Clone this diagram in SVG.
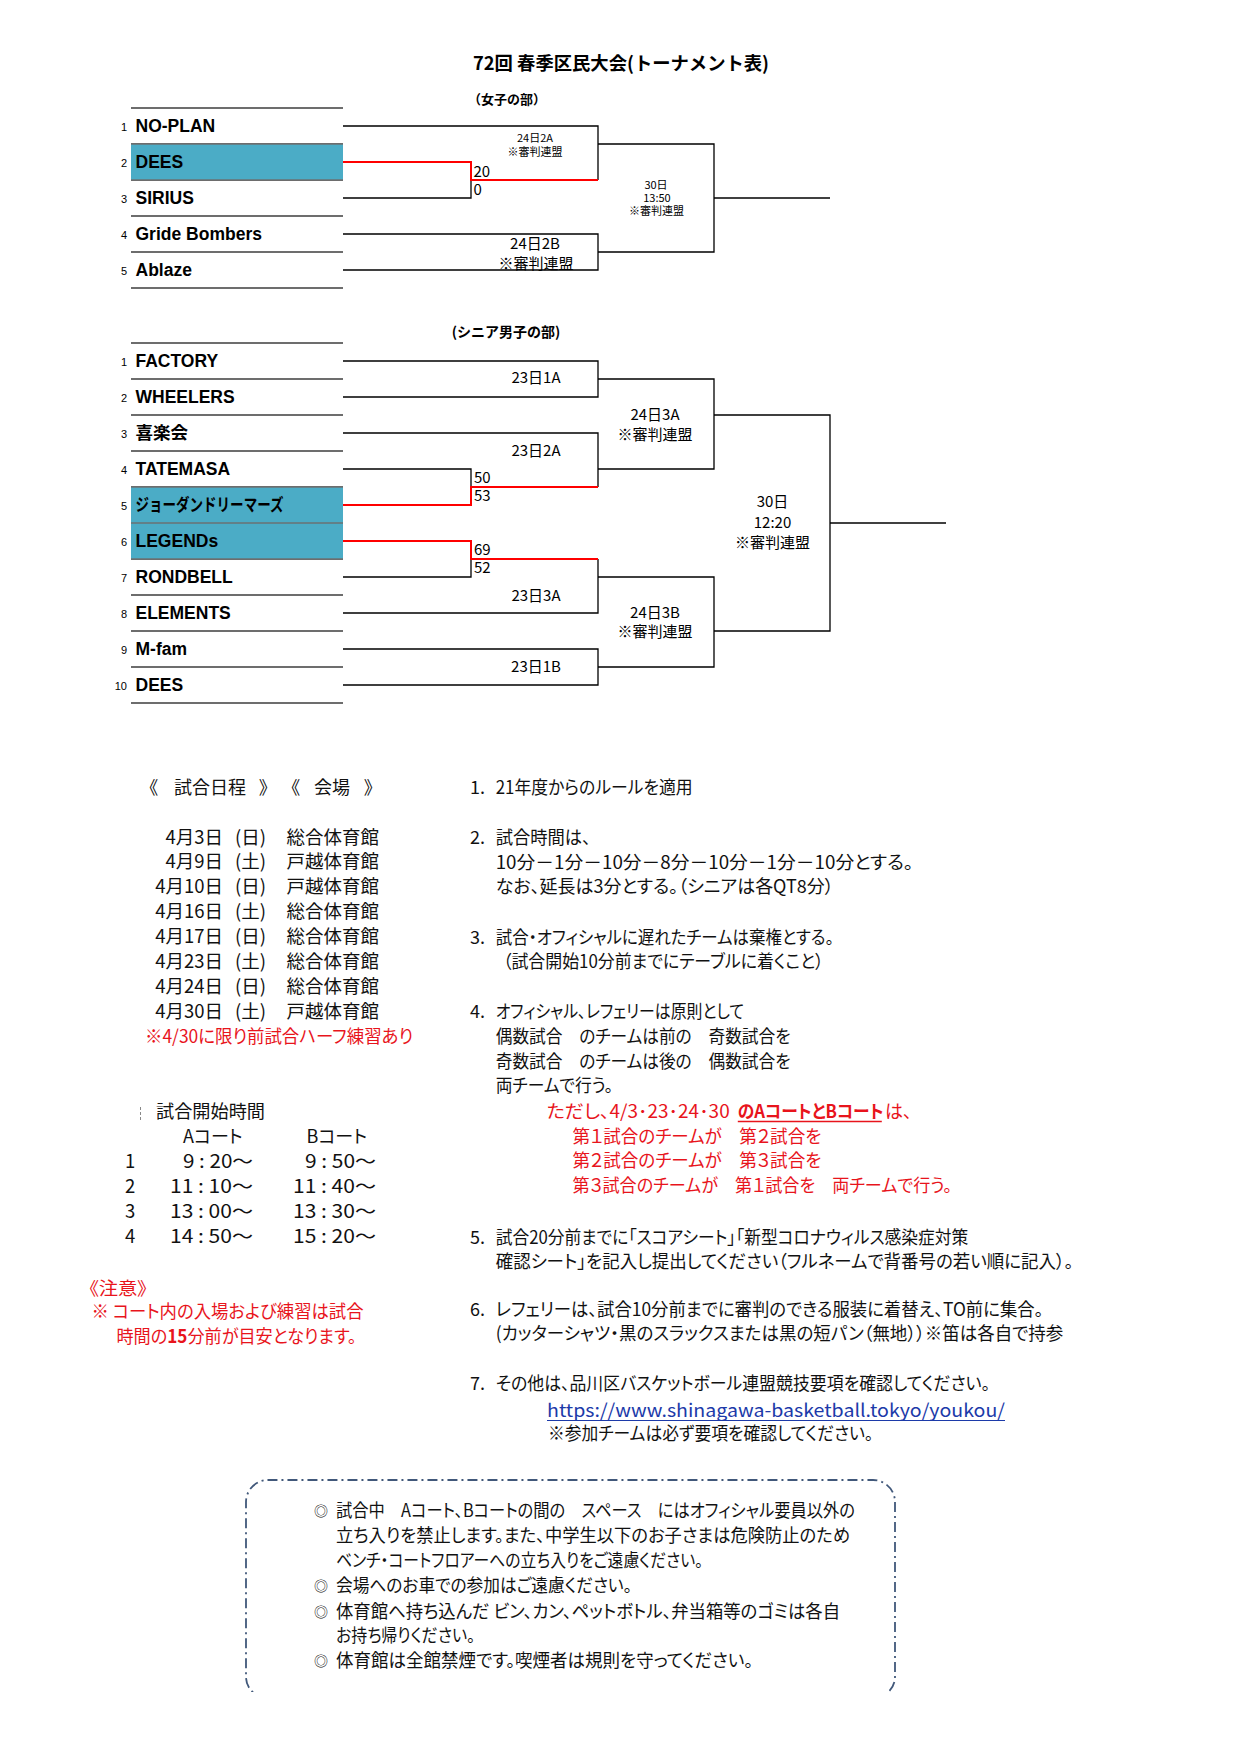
<svg xmlns="http://www.w3.org/2000/svg" width="1240" height="1754" viewBox="0 0 1240 1754">
<style>
.t{font-family:"Noto Sans CJK JP",sans-serif;font-size:18px;font-feature-settings:"palt" 1;fill:#111}
.d{font-family:"Noto Sans CJK JP",sans-serif;font-size:18.5px;fill:#111}
.red{fill:#e8141c}
.team{font-family:"Liberation Sans","Noto Sans CJK JP",sans-serif;font-weight:bold;font-size:17.5px;fill:#000}
.num{font-family:"Liberation Sans",sans-serif;font-size:11px;fill:#000;text-anchor:end}
.row{stroke:#3c3c3c;stroke-width:1.5}
.br{fill:none;stroke:#000;stroke-width:1.3}
.win{fill:none;stroke:#f00;stroke-width:2}
.lbl{font-family:"Noto Sans CJK JP",sans-serif;font-size:15px;text-anchor:middle;fill:#000}
.sm{font-family:"Noto Sans CJK JP",sans-serif;font-size:11px;text-anchor:middle;fill:#000}
.sc{font-family:"Noto Sans CJK JP",sans-serif;font-size:15px;fill:#000}
.hd{font-family:"Noto Sans CJK JP",sans-serif;font-weight:bold;fill:#000}
.blue{fill:#4bacc6}
.bul{font-family:"Noto Sans CJK JP",sans-serif;font-size:14px;fill:#111}
</style>
<rect width="1240" height="1754" fill="#fff"/>

<!-- titles -->
<text class="hd" x="473" y="70" font-size="18.5" textLength="296" lengthAdjust="spacingAndGlyphs">72回 春季区民大会(トーナメント表)</text>
<text class="hd" x="507" y="103.5" font-size="13" text-anchor="middle">（女子の部）</text>
<text class="hd" x="506" y="337" font-size="14" text-anchor="middle">(シニア男子の部)</text>

<!-- row lines -->
<g id="row-lines">
<line class="row" x1="131" y1="108" x2="343" y2="108"/>
<line class="row" x1="131" y1="144" x2="343" y2="144"/>
<line class="row" x1="131" y1="180" x2="343" y2="180"/>
<line class="row" x1="131" y1="216" x2="343" y2="216"/>
<line class="row" x1="131" y1="252" x2="343" y2="252"/>
<line class="row" x1="131" y1="288" x2="343" y2="288"/>
<line class="row" x1="131" y1="343" x2="343" y2="343"/>
<line class="row" x1="131" y1="379" x2="343" y2="379"/>
<line class="row" x1="131" y1="415" x2="343" y2="415"/>
<line class="row" x1="131" y1="451" x2="343" y2="451"/>
<line class="row" x1="131" y1="487" x2="343" y2="487"/>
<line class="row" x1="131" y1="523" x2="343" y2="523"/>
<line class="row" x1="131" y1="559" x2="343" y2="559"/>
<line class="row" x1="131" y1="595" x2="343" y2="595"/>
<line class="row" x1="131" y1="631" x2="343" y2="631"/>
<line class="row" x1="131" y1="667" x2="343" y2="667"/>
<line class="row" x1="131" y1="703" x2="343" y2="703"/>
</g>

<!-- women's teams -->
<g id="w-team-1"><text class="num" x="127" y="131">1</text><text class="team" x="135.5" y="132">NO-PLAN</text></g>
<g id="w-team-2"><rect class="blue" x="131" y="144.7" width="212" height="34.6"/><text class="num" x="127" y="167">2</text><text class="team" x="135.5" y="168">DEES</text></g>
<g id="w-team-3"><text class="num" x="127" y="203">3</text><text class="team" x="135.5" y="204">SIRIUS</text></g>
<g id="w-team-4"><text class="num" x="127" y="239">4</text><text class="team" x="135.5" y="240">Gride Bombers</text></g>
<g id="w-team-5"><text class="num" x="127" y="275">5</text><text class="team" x="135.5" y="276">Ablaze</text></g>

<!-- men's teams -->
<g id="m-team-1"><text class="num" x="127" y="366">1</text><text class="team" x="135.5" y="367">FACTORY</text></g>
<g id="m-team-2"><text class="num" x="127" y="402">2</text><text class="team" x="135.5" y="403">WHEELERS</text></g>
<g id="m-team-3"><text class="num" x="127" y="438">3</text><text class="team" x="135.5" y="439">喜楽会</text></g>
<g id="m-team-4"><text class="num" x="127" y="474">4</text><text class="team" x="135.5" y="475">TATEMASA</text></g>
<g id="m-team-5"><rect class="blue" x="131" y="487.7" width="212" height="34.6"/><text class="num" x="127" y="510">5</text><text class="team" x="135.5" y="511" textLength="148" lengthAdjust="spacingAndGlyphs">ジョーダンドリーマーズ</text></g>
<g id="m-team-6"><rect class="blue" x="131" y="523.7" width="212" height="34.6"/><text class="num" x="127" y="546">6</text><text class="team" x="135.5" y="547">LEGENDs</text></g>
<g id="m-team-7"><text class="num" x="127" y="582">7</text><text class="team" x="135.5" y="583">RONDBELL</text></g>
<g id="m-team-8"><text class="num" x="127" y="618">8</text><text class="team" x="135.5" y="619">ELEMENTS</text></g>
<g id="m-team-9"><text class="num" x="127" y="654">9</text><text class="team" x="135.5" y="655">M-fam</text></g>
<g id="m-team-10"><text class="num" x="127" y="690">10</text><text class="team" x="135.5" y="691">DEES</text></g>

<!-- connectors -->
<g id="connectors">
<path class="br" d="M343,126H598V180"/>
<path class="br" d="M343,198H471V180"/>
<path class="br" d="M598,144H714V252H598"/>
<path class="br" d="M343,234H598V270H343"/>
<path class="br" d="M714,198H830"/>
<path class="win" d="M343,162H471V180H598"/>

<path class="br" d="M343,361H598V397H343"/>
<path class="br" d="M598,379H714V469H598"/>
<path class="br" d="M343,433H598V487"/>
<path class="br" d="M343,469H471V487"/>
<path class="br" d="M714,415H830V631H714"/>
<path class="br" d="M830,523H946"/>
<path class="br" d="M343,577H471V559"/>
<path class="br" d="M343,613H598V559"/>
<path class="br" d="M598,577H714V667H598"/>
<path class="br" d="M343,649H598V685H343"/>
<path class="win" d="M343,505H471V487H598"/>
<path class="win" d="M343,541H471V559H598"/>
</g>

<!-- match labels women -->
<g id="w-match-2A"><text class="sm" x="535" y="141.5">24日2A</text><text class="sm" x="535" y="155.5" font-size="11.5">※審判連盟</text></g>
<g id="w-score-1"><text class="sc" x="473.5" y="176.5" font-size="13">20</text><text class="sc" x="473.5" y="194.5" font-size="13">0</text></g>
<g id="w-final"><text class="sm" x="656" y="189" font-size="10.5">30日</text><text class="sm" x="657" y="201.5" font-size="10.5">13:50</text><text class="sm" x="656.5" y="215" font-size="11.5">※審判連盟</text></g>
<g id="w-match-2B"><text class="lbl" x="535" y="249">24日2B</text><text class="lbl" x="536" y="268.5" font-size="14.5">※審判連盟</text></g>

<!-- match labels men -->
<g id="m-match-1A"><text class="lbl" x="536" y="383">23日1A</text></g>
<g id="m-match-2A"><text class="lbl" x="536" y="455.5">23日2A</text></g>
<g id="m-match-3A24"><text class="lbl" x="655" y="419.5">24日3A</text><text class="lbl" x="655" y="439.5" font-size="14.5">※審判連盟</text></g>
<g id="m-match-3A"><text class="lbl" x="536" y="600.5">23日3A</text></g>
<g id="m-match-3B24"><text class="lbl" x="655" y="617.5">24日3B</text><text class="lbl" x="655" y="636.5" font-size="14.5">※審判連盟</text></g>
<g id="m-match-1B"><text class="lbl" x="536" y="672">23日1B</text></g>
<g id="m-final"><text class="lbl" x="772.5" y="507">30日</text><text class="lbl" x="772.5" y="528">12:20</text><text class="lbl" x="772.5" y="548" font-size="14.5">※審判連盟</text></g>
<g id="m-scores"><text class="sc" x="474" y="482.5">50</text><text class="sc" x="474" y="501">53</text><text class="sc" x="474" y="554.5">69</text><text class="sc" x="474" y="573">52</text></g>

<!-- schedule -->
<g id="schedule">
<text class="t" y="794"><tspan x="149">《</tspan><tspan x="174">試合日程</tspan><tspan x="259">》</tspan><tspan x="291">《</tspan><tspan x="314">会場</tspan><tspan x="364">》</tspan></text>
<g class="d">
<text x="223" y="843.5" text-anchor="end">4月3日</text><text x="235" y="843.5">(日)</text><text x="286.5" y="843.5">総合体育館</text>
<text x="223" y="868" text-anchor="end">4月9日</text><text x="235" y="868">(土)</text><text x="286.5" y="868">戸越体育館</text>
<text x="223" y="892.5" text-anchor="end">4月10日</text><text x="235" y="892.5">(日)</text><text x="286.5" y="892.5">戸越体育館</text>
<text x="223" y="917.5" text-anchor="end">4月16日</text><text x="235" y="917.5">(土)</text><text x="286.5" y="917.5">総合体育館</text>
<text x="223" y="942.5" text-anchor="end">4月17日</text><text x="235" y="942.5">(日)</text><text x="286.5" y="942.5">総合体育館</text>
<text x="223" y="967.5" text-anchor="end">4月23日</text><text x="235" y="967.5">(土)</text><text x="286.5" y="967.5">総合体育館</text>
<text x="223" y="992.5" text-anchor="end">4月24日</text><text x="235" y="992.5">(日)</text><text x="286.5" y="992.5">総合体育館</text>
<text x="223" y="1017.5" text-anchor="end">4月30日</text><text x="235" y="1017.5">(土)</text><text x="286.5" y="1017.5">戸越体育館</text>
</g>
<text class="t red" x="145" y="1043" textLength="268" lengthAdjust="spacingAndGlyphs">※4/30に限り前試合ハーフ練習あり</text>
</g>

<!-- start times -->
<g id="times">
<line x1="140.5" y1="1107" x2="140.5" y2="1120" stroke="#888" stroke-width="1" stroke-dasharray="3 2"/>
<text class="t" x="156" y="1118" textLength="109" lengthAdjust="spacingAndGlyphs">試合開始時間</text>
<text class="t" x="183" y="1143">Aコート</text>
<text class="t" x="306.5" y="1143">Bコート</text>
<g class="d">
<text x="125" y="1168">1</text><text x="253" y="1168" text-anchor="end" textLength="70" lengthAdjust="spacingAndGlyphs">9 : 20～</text><text x="376" y="1168" text-anchor="end" textLength="71" lengthAdjust="spacingAndGlyphs">9 : 50～</text>
<text x="125" y="1193">2</text><text x="253" y="1193" text-anchor="end" textLength="83" lengthAdjust="spacingAndGlyphs">11 : 10～</text><text x="376" y="1193" text-anchor="end" textLength="83" lengthAdjust="spacingAndGlyphs">11 : 40～</text>
<text x="125" y="1218">3</text><text x="253" y="1218" text-anchor="end" textLength="83" lengthAdjust="spacingAndGlyphs">13 : 00～</text><text x="376" y="1218" text-anchor="end" textLength="83" lengthAdjust="spacingAndGlyphs">13 : 30～</text>
<text x="125" y="1243">4</text><text x="253" y="1243" text-anchor="end" textLength="83" lengthAdjust="spacingAndGlyphs">14 : 50～</text><text x="376" y="1243" text-anchor="end" textLength="83" lengthAdjust="spacingAndGlyphs">15 : 20～</text>
</g>
</g>

<!-- caution -->
<g id="caution">
<text class="t red" x="89" y="1294.5" textLength="58" lengthAdjust="spacingAndGlyphs">《注意》</text>
<text class="t red" x="91.5" y="1318" textLength="272" lengthAdjust="spacingAndGlyphs">※ コート内の入場および練習は試合</text>
<text class="t red" x="116.5" y="1343" textLength="240" lengthAdjust="spacingAndGlyphs">時間の<tspan font-weight="bold">15</tspan>分前が目安となります。</text>
</g>

<!-- rules -->
<g id="rules">
<text class="t" x="470" y="794">1.</text><text class="t" x="495.7" y="794" textLength="197" lengthAdjust="spacingAndGlyphs">21年度からのルールを適用</text>
<text class="t" x="470" y="844">2.</text><text class="t" x="495.7" y="844" textLength="95" lengthAdjust="spacingAndGlyphs">試合時間は、</text>
<text class="t" x="495.7" y="869" textLength="417.6" lengthAdjust="spacingAndGlyphs">10分－1分－10分－8分－10分－1分－10分とする。</text>
<text class="t" x="495.7" y="893" textLength="338" lengthAdjust="spacingAndGlyphs">なお、延長は3分とする。（シニアは各QT8分）</text>
<text class="t" x="470" y="944">3.</text><text class="t" x="495.7" y="944" textLength="338" lengthAdjust="spacingAndGlyphs">試合・オフィシャルに遅れたチームは棄権とする。</text>
<text class="t" x="503" y="968" textLength="320.5" lengthAdjust="spacingAndGlyphs">（試合開始10分前までにテーブルに着くこと）</text>
<text class="t" x="470" y="1018">4.</text><text class="t" x="495.7" y="1018" textLength="248.3" lengthAdjust="spacingAndGlyphs">オフィシャル、レフェリーは原則として</text>
<text class="t" x="495.7" y="1043" textLength="295" lengthAdjust="spacingAndGlyphs">偶数試合　のチームは前の　奇数試合を</text>
<text class="t" x="495.7" y="1068" textLength="295" lengthAdjust="spacingAndGlyphs">奇数試合　のチームは後の　偶数試合を</text>
<text class="t" x="495.7" y="1092" textLength="117.3" lengthAdjust="spacingAndGlyphs">両チームで行う。</text>

<text class="t red" x="546.7" y="1118" textLength="183" lengthAdjust="spacingAndGlyphs">ただし、4/3･23･24･30</text>
<text class="t red" x="0" y="0" font-weight="bold" transform="translate(737.8,1118) scale(0.93,1)">のAコートとBコート</text>
<line x1="737.8" y1="1121.5" x2="881.8" y2="1121.5" stroke="#e8141c" stroke-width="1.5"/>
<text class="t red" x="885" y="1118">は、</text>
<text class="t red" x="572.4" y="1143" textLength="249" lengthAdjust="spacingAndGlyphs">第１試合のチームが　第２試合を</text>
<text class="t red" x="572.4" y="1167" textLength="249" lengthAdjust="spacingAndGlyphs">第２試合のチームが　第３試合を</text>
<text class="t red" x="572.4" y="1192" textLength="379.6" lengthAdjust="spacingAndGlyphs">第３試合のチームが　第１試合を　両チームで行う。</text>

<text class="t" x="470" y="1244">5.</text><text class="t" x="495.7" y="1244" textLength="472.6" lengthAdjust="spacingAndGlyphs">試合20分前までに「スコアシート」「新型コロナウィルス感染症対策</text>
<text class="t" x="495.7" y="1267.5" textLength="577.6" lengthAdjust="spacingAndGlyphs">確認シート」を記入し提出してください（フルネームで背番号の若い順に記入）。</text>
<text class="t" x="470" y="1316">6.</text><text class="t" x="495.7" y="1316" textLength="547.6" lengthAdjust="spacingAndGlyphs">レフェリーは、試合10分前までに審判のできる服装に着替え、TO前に集合。</text>
<text class="t" x="495.7" y="1340" textLength="567.6" lengthAdjust="spacingAndGlyphs">(カッターシャツ・黒のスラックスまたは黒の短パン（無地））※笛は各自で持参</text>
<text class="t" x="470" y="1390">7.</text><text class="t" x="495.7" y="1390" textLength="494.3" lengthAdjust="spacingAndGlyphs">その他は、品川区バスケットボール連盟競技要項を確認してください。</text>
<text class="t" x="547" y="1416.5" style="fill:#1c3aa9" textLength="458" lengthAdjust="spacingAndGlyphs">https://www.shinagawa-basketball.tokyo/youkou/</text>
<line x1="547" y1="1420.5" x2="1005" y2="1420.5" stroke="#1c3aa9" stroke-width="1.2"/>
<text class="t" x="548" y="1440" textLength="325.3" lengthAdjust="spacingAndGlyphs">※参加チームは必ず要項を確認してください。</text>
</g>

<!-- notice box -->
<g id="notice">
<path d="M266,1697A20,20 0 0 1 246,1677V1502A22,22 0 0 1 268,1480H873A22,22 0 0 1 895,1502V1677A20,20 0 0 1 875,1697" fill="none" stroke="#41587a" stroke-width="1.8" stroke-dasharray="10 4 2 4"/>
<rect x="240" y="1692" width="662" height="10" fill="#fff"/>
<text class="bul" x="314" y="1515.5">◎</text><text class="t" x="336" y="1516.5" textLength="519" lengthAdjust="spacingAndGlyphs">試合中　Aコート、Bコートの間の　スペース　にはオフィシャル要員以外の</text>
<text class="t" x="336" y="1541.5" textLength="514" lengthAdjust="spacingAndGlyphs">立ち入りを禁止します。また、中学生以下のお子さまは危険防止のため</text>
<text class="t" x="336" y="1566.5" textLength="367" lengthAdjust="spacingAndGlyphs">ベンチ・コートフロアーへの立ち入りをご遠慮ください。</text>
<text class="bul" x="314" y="1590.5">◎</text><text class="t" x="336" y="1591.5" textLength="296" lengthAdjust="spacingAndGlyphs">会場へのお車での参加はご遠慮ください。</text>
<text class="bul" x="314" y="1616.5">◎</text><text class="t" x="336" y="1617.5" textLength="504" lengthAdjust="spacingAndGlyphs">体育館へ持ち込んだ ビン、カン、ペットボトル、弁当箱等のゴミは各自</text>
<text class="t" x="336" y="1641.5" textLength="139" lengthAdjust="spacingAndGlyphs">お持ち帰りください。</text>
<text class="bul" x="314" y="1665.5">◎</text><text class="t" x="336" y="1666.5" textLength="417" lengthAdjust="spacingAndGlyphs">体育館は全館禁煙です。喫煙者は規則を守ってください。</text>
</g>
</svg>
